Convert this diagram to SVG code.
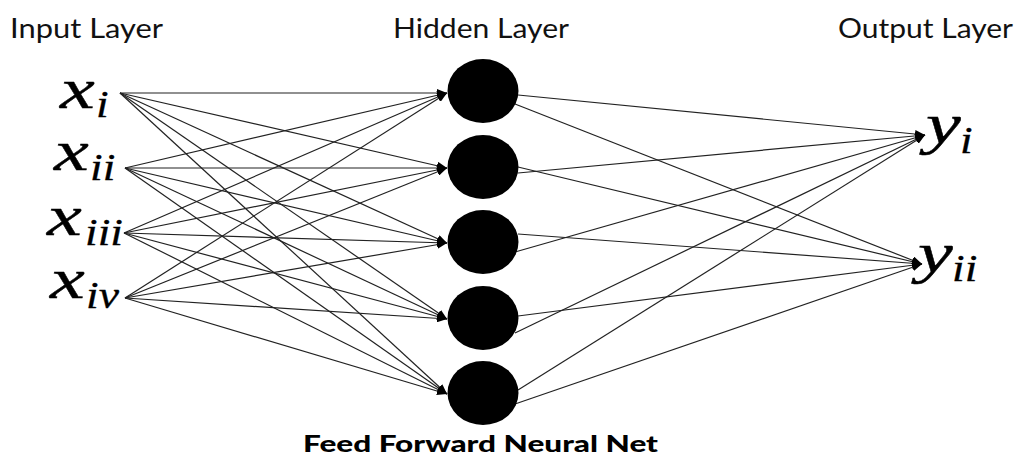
<svg xmlns="http://www.w3.org/2000/svg" width="1019" height="456" viewBox="0 0 1019 456">
<style>
.hdr{font-family:Lato,"Noto Sans",sans-serif;font-size:27px;fill:#111}
.title{font-family:Lato,"Open Sans",sans-serif;font-weight:900;font-size:22px;fill:#000}
.m{font-family:"Liberation Serif",serif;font-style:italic;font-size:58px;fill:#000;stroke:#000;stroke-width:0.4}
.s{font-family:"Liberation Serif",serif;font-style:italic;font-size:38px;fill:#000;stroke:#000;stroke-width:0.3}
.e{stroke:#222;stroke-width:1.2;fill:none;marker-end:url(#ah)}
.n{fill:#000}
</style>
<defs>
<marker id="ah" markerUnits="userSpaceOnUse" markerWidth="10" markerHeight="8" refX="10" refY="4" orient="auto">
<path d="M0,0 L10,4 L0,8 z" fill="#000"/>
</marker>
</defs>
<g id="headers">
<text class="hdr" x="10" y="38" textLength="153" lengthAdjust="spacingAndGlyphs">Input Layer</text>
<text class="hdr" x="393" y="38" textLength="176" lengthAdjust="spacingAndGlyphs">Hidden Layer</text>
<text class="hdr" x="838" y="38" textLength="175" lengthAdjust="spacingAndGlyphs">Output Layer</text>
</g>
<g id="connectors">
<line class="e" x1="120" y1="93" x2="447" y2="93"/>
<line class="e" x1="120" y1="93" x2="447" y2="168"/>
<line class="e" x1="120" y1="93" x2="447" y2="243"/>
<line class="e" x1="120" y1="93" x2="447" y2="319"/>
<line class="e" x1="120" y1="93" x2="447" y2="394"/>
<line class="e" x1="125" y1="168" x2="447" y2="93"/>
<line class="e" x1="125" y1="168" x2="447" y2="168"/>
<line class="e" x1="125" y1="168" x2="447" y2="243"/>
<line class="e" x1="125" y1="168" x2="447" y2="319"/>
<line class="e" x1="125" y1="168" x2="447" y2="394"/>
<line class="e" x1="124" y1="233" x2="447" y2="93"/>
<line class="e" x1="124" y1="233" x2="447" y2="168"/>
<line class="e" x1="124" y1="233" x2="447" y2="243"/>
<line class="e" x1="124" y1="233" x2="447" y2="319"/>
<line class="e" x1="124" y1="233" x2="447" y2="394"/>
<line class="e" x1="125" y1="298" x2="447" y2="93"/>
<line class="e" x1="125" y1="298" x2="447" y2="168"/>
<line class="e" x1="125" y1="298" x2="447" y2="243"/>
<line class="e" x1="125" y1="298" x2="447" y2="319"/>
<line class="e" x1="125" y1="298" x2="447" y2="394"/>
<line class="e" x1="518" y1="95" x2="925" y2="135"/>
<line class="e" x1="515" y1="104" x2="922" y2="264"/>
<line class="e" x1="518" y1="167" x2="922" y2="264"/>
<line class="e" x1="518" y1="173" x2="925" y2="135"/>
<line class="e" x1="518" y1="234" x2="922" y2="264"/>
<line class="e" x1="515" y1="252" x2="925" y2="135"/>
<line class="e" x1="518" y1="316" x2="922" y2="264"/>
<line class="e" x1="515" y1="333" x2="925" y2="135"/>
<line class="e" x1="518" y1="390" x2="925" y2="135"/>
<line class="e" x1="515" y1="404" x2="922" y2="264"/>
</g>
<g id="x_i"><text class="m" transform="translate(60,108) scale(1.35,1)">x</text><text class="s" transform="translate(96,117) scale(1.2,1)">i</text></g>
<g id="x_ii"><text class="m" transform="translate(54,170) scale(1.35,1)">x</text><text class="s" transform="translate(90,180) scale(1.2,1)">ii</text></g>
<g id="x_iii"><text class="m" transform="translate(47,235) scale(1.35,1)">x</text><text class="s" transform="translate(85,245) scale(1.2,1)">iii</text></g>
<g id="x_iv"><text class="m" transform="translate(50,298) scale(1.35,1)">x</text><text class="s" transform="translate(86,308) scale(1.2,1)">iv</text></g>
<g id="h1"><ellipse class="n" cx="483" cy="91" rx="35.5" ry="32"/></g>
<g id="h2"><ellipse class="n" cx="483" cy="167" rx="35.5" ry="32"/></g>
<g id="h3"><ellipse class="n" cx="483" cy="242" rx="35.5" ry="32"/></g>
<g id="h4"><ellipse class="n" cx="483" cy="318" rx="35.5" ry="32"/></g>
<g id="h5"><ellipse class="n" cx="483" cy="393" rx="35.5" ry="32"/></g>
<g id="y_i"><text class="m" transform="translate(926,143) scale(1.35,1)">y</text><text class="s" transform="translate(960,153) scale(1.2,1)">i</text></g>
<g id="y_ii"><text class="m" transform="translate(918,272) scale(1.35,1)">y</text><text class="s" transform="translate(952,281) scale(1.2,1)">ii</text></g>
<text class="title" x="303" y="452" textLength="355" lengthAdjust="spacingAndGlyphs">Feed Forward Neural Net</text>
</svg>
